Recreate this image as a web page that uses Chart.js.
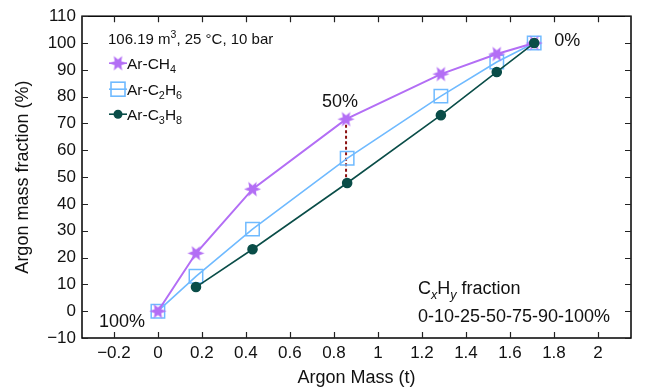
<!DOCTYPE html>
<html>
<head>
<meta charset="utf-8">
<script src="https://cdn.jsdelivr.net/npm/chart.js@4.4.1/dist/chart.umd.min.js"></script>
<style>
  html, body { margin: 0; padding: 0; background: #fff; }
  #wrap { width: 646px; height: 389px; }
</style>
</head>
<body>
<div id="wrap"><canvas id="argonChart" width="646" height="389"></canvas></div>
<script>
// argon mass (t) at each hydrocarbon fraction step
var massCH4 = [0, 0.173, 0.43, 0.855, 1.286, 1.54, 1.71];
var fracCH4 = [0, 21.6, 45.5, 71.6, 88.4, 95.9, 100];

var massC2H6 = [0, 0.173, 0.43, 0.86, 1.286, 1.54, 1.71];
var fracC2H6 = [0, 13, 30.6, 57, 80.2, 92.9, 100];

var massC3H8 = [0.173, 0.43, 0.86, 1.286, 1.54, 1.71];
var fracC3H8 = [9, 23.1, 47.8, 73.1, 89.2, 100];

var xTicks = [-0.2, 0, 0.2, 0.4, 0.6, 0.8, 1, 1.2, 1.4, 1.6, 1.8, 2];
var yTicks = [-10, 0, 10, 20, 30, 40, 50, 60, 70, 80, 90, 100, 110];

var purple = "#b36ef5";
var lightBlue = "#6fbaff";
var darkGreen = "#0a4d48";
var darkRed = "#8b1010";
var FONT = "'Liberation Sans', Arial, sans-serif";

function pairs(xs, ys) {
  return xs.map(function (x, i) { return { x: x, y: ys[i] }; });
}

// filled six-point star used as the CH4 marker
function makeStar(r, inner, color) {
  var c = document.createElement("canvas");
  var s = Math.ceil(r * 2 + 2);
  c.width = s;
  c.height = s;
  var g = c.getContext("2d");
  g.translate(s / 2, s / 2);
  g.beginPath();
  for (var i = 0; i < 12; i++) {
    var a = (Math.PI / 6) * i;
    var rr = i % 2 === 0 ? r : inner;
    g.lineTo(Math.cos(a) * rr, Math.sin(a) * rr);
  }
  g.closePath();
  g.fillStyle = color;
  g.fill();
  return c;
}
var starImg = makeStar(8.5, 3.8, purple);

function fmt(v) {
  var s = String(Math.round(v * 10) / 10);
  return v < 0 ? "\u2212" + s.slice(1) : s;
}

// text with sub/superscripts: parts = [[text, "n"|"sub"|"sup"|"subi"], ...]
function drawRich(ctx, parts, x, y, size) {
  ctx.textBaseline = "alphabetic";
  ctx.textAlign = "left";
  parts.forEach(function (p) {
    var t = p[0], k = p[1];
    var dy = 0, sz = size, style = "";
    if (k === "sub") { sz = size * 0.7; dy = size * 0.3; }
    if (k === "subi") { sz = size * 0.7; dy = size * 0.3; style = "italic "; }
    if (k === "sup") { sz = size * 0.7; dy = -size * 0.4; }
    ctx.font = style + sz + "px " + FONT;
    ctx.fillText(t, x, y + dy);
    x += ctx.measureText(t).width;
  });
}

var framePlugin = {
  id: "frame",
  afterDatasetsDraw: function (chart) {
    var ctx = chart.ctx;
    var a = chart.chartArea;
    var xs = chart.scales.x, ys = chart.scales.y;
    ctx.save();
    ctx.strokeStyle = "#000";
    ctx.lineWidth = 1.5;
    ctx.strokeRect(a.left, a.top, a.right - a.left, a.bottom - a.top);

    // inward tick marks on all four sides
    ctx.lineWidth = 1.2;
    ctx.strokeStyle = "#222";
    var tl = 6;
    ctx.beginPath();
    xTicks.forEach(function (v) {
      var px = Math.round(xs.getPixelForValue(v)) + 0.5;
      ctx.moveTo(px, a.bottom); ctx.lineTo(px, a.bottom - tl);
      ctx.moveTo(px, a.top); ctx.lineTo(px, a.top + tl);
    });
    yTicks.forEach(function (v) {
      var py = Math.round(ys.getPixelForValue(v)) + 0.5;
      ctx.moveTo(a.left, py); ctx.lineTo(a.left + tl, py);
      ctx.moveTo(a.right, py); ctx.lineTo(a.right - tl, py);
    });
    ctx.stroke();
    ctx.restore();
  },
  beforeDatasetsDraw: function (chart) {
    // dashed drop line at the 50 % point
    var ctx = chart.ctx;
    var xs = chart.scales.x, ys = chart.scales.y;
    var px = xs.getPixelForValue(massCH4[3]);
    ctx.save();
    ctx.strokeStyle = darkRed;
    ctx.lineWidth = 2;
    ctx.setLineDash([3, 2.5]);
    ctx.beginPath();
    ctx.moveTo(px, ys.getPixelForValue(fracCH4[3]));
    ctx.lineTo(px, ys.getPixelForValue(fracC3H8[2]));
    ctx.stroke();
    ctx.restore();
  },
  afterDraw: function (chart) {
    var ctx = chart.ctx;
    var a = chart.chartArea;
    var xs = chart.scales.x, ys = chart.scales.y;
    ctx.save();
    ctx.fillStyle = "#111";

    // legend block
    drawRich(ctx, [["106.19 m", "n"], ["3", "sup"], [", 25 \u00b0C, 10 bar", "n"]], a.left + 26, a.top + 28, 15);
    var rows = [
      { y: a.top + 47, parts: [["Ar-CH", "n"], ["4", "sub"]], kind: "star", color: purple },
      { y: a.top + 73, parts: [["Ar-C", "n"], ["2", "sub"], ["H", "n"], ["6", "sub"]], kind: "square", color: lightBlue },
      { y: a.top + 98, parts: [["Ar-C", "n"], ["3", "sub"], ["H", "n"], ["8", "sub"]], kind: "circle", color: darkGreen }
    ];
    var mx = a.left + 36;
    rows.forEach(function (r) {
      ctx.strokeStyle = r.color;
      ctx.lineWidth = 1.6;
      ctx.beginPath();
      ctx.moveTo(mx - 9, r.y);
      ctx.lineTo(mx + 9, r.y);
      ctx.stroke();
      if (r.kind === "star") {
        ctx.drawImage(starImg, mx - starImg.width / 2, r.y - starImg.height / 2);
      } else if (r.kind === "square") {
        ctx.strokeRect(mx - 7, r.y - 7, 14, 14);
      } else {
        ctx.fillStyle = r.color;
        ctx.beginPath();
        ctx.arc(mx, r.y, 4.5, 0, Math.PI * 2);
        ctx.fill();
      }
      ctx.fillStyle = "#111";
      drawRich(ctx, r.parts, mx + 9, r.y + 5.5, 15.5);
    });

    // point labels
    ctx.font = "18px " + FONT;
    ctx.textAlign = "center";
    ctx.textBaseline = "alphabetic";
    ctx.fillText("50%", xs.getPixelForValue(massCH4[3]) - 6, ys.getPixelForValue(fracCH4[3]) - 12);
    ctx.textAlign = "left";
    ctx.fillText("0%", xs.getPixelForValue(massCH4[6]) + 20, ys.getPixelForValue(100) + 3);
    ctx.textAlign = "center";
    ctx.fillText("100%", xs.getPixelForValue(0) - 36, ys.getPixelForValue(0) + 16);

    // fraction note, bottom right
    drawRich(ctx, [["C", "n"], ["x", "subi"], ["H", "n"], ["y", "subi"], [" fraction", "n"]], a.left + 336, a.bottom - 44, 18);
    drawRich(ctx, [["0-10-25-50-75-90-100%", "n"]], a.left + 336, a.bottom - 16, 18);
    ctx.restore();
  }
};

var ctx = document.getElementById("argonChart").getContext("2d");

var config = {
  type: "scatter",
  data: {
    datasets: [
      {
        label: "Ar-CH4",
        data: pairs(massCH4, fracCH4),
        showLine: true,
        borderColor: purple,
        backgroundColor: purple,
        borderWidth: 2,
        pointStyle: starImg,
        order: 1
      },
      {
        label: "Ar-C2H6",
        data: pairs(massC2H6, fracC2H6),
        showLine: true,
        borderColor: lightBlue,
        backgroundColor: "rgba(0,0,0,0)",
        borderWidth: 1.6,
        pointStyle: "rect",
        pointRadius: 9.5,
        pointBorderWidth: 1.5,
        order: 2
      },
      {
        label: "Ar-C3H8",
        data: pairs(massC3H8, fracC3H8),
        showLine: true,
        borderColor: darkGreen,
        backgroundColor: darkGreen,
        borderWidth: 1.6,
        pointStyle: "circle",
        pointRadius: 4.5,
        order: 0
      }
    ]
  },
  options: {
    responsive: false,
    animation: false,
    layout: { padding: { top: 16, right: 15, left: 0, bottom: 0 } },
    plugins: { legend: { display: false }, tooltip: { enabled: false } },
    scales: {
      x: {
        type: "linear",
        min: -0.345,
        max: 2.15,
        afterBuildTicks: function (s) { s.ticks = xTicks.map(function (v) { return { value: v }; }); },
        afterFit: function (s) { s.height = 51; },
        grid: { display: false, drawTicks: false },
        border: { display: false },
        ticks: {
          color: "#111",
          padding: 5,
          maxRotation: 0,
          autoSkip: false,
          font: { family: FONT, size: 17 },
          callback: function (v) { return fmt(v); }
        },
        title: {
          display: true,
          text: "Argon Mass (t)",
          color: "#111",
          padding: { top: 0, bottom: 0 },
          font: { family: FONT, size: 18 }
        }
      },
      y: {
        min: -10,
        max: 110,
        afterBuildTicks: function (s) { s.ticks = yTicks.map(function (v) { return { value: v }; }); },
        afterFit: function (s) { s.width = 82; },
        grid: { display: false, drawTicks: false },
        border: { display: false },
        ticks: {
          color: "#111",
          padding: 6,
          autoSkip: false,
          font: { family: FONT, size: 17 },
          callback: function (v) { return fmt(v); }
        },
        title: {
          display: true,
          text: "Argon mass fraction (%)",
          color: "#111",
          padding: { top: 12, bottom: 0 },
          font: { family: FONT, size: 18 }
        }
      }
    }
  },
  plugins: [framePlugin]
};

var myChart = new Chart(ctx, config);
</script>
</body>
</html>
